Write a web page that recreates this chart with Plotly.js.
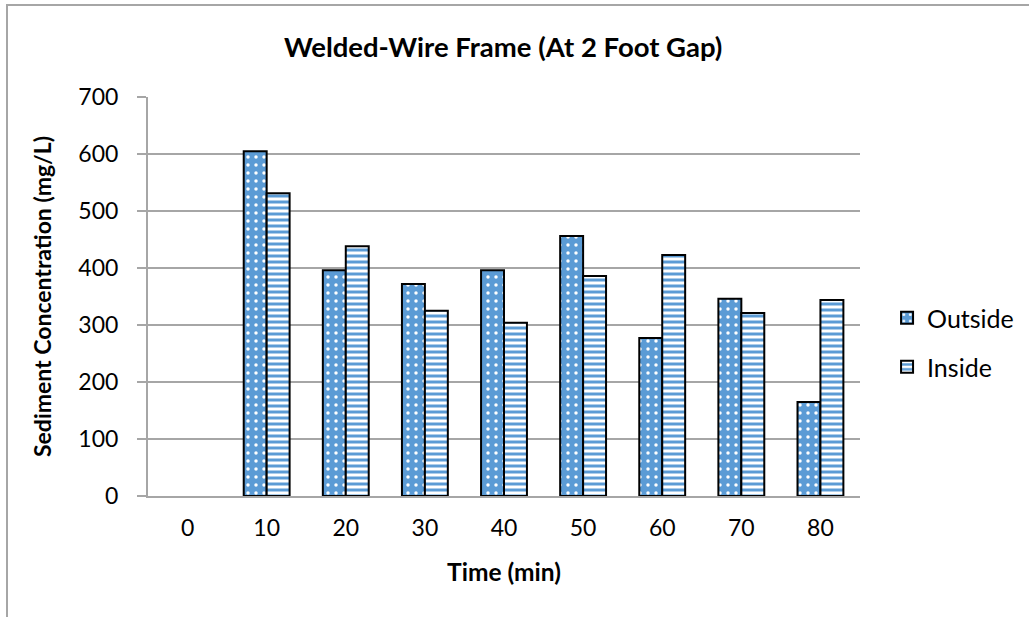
<!DOCTYPE html>
<html>
<head>
<meta charset="utf-8">
<script src="https://cdn.plot.ly/plotly-3.0.1.min.js"></script>
<style>
  html, body { margin: 0; padding: 0; background: #fff; }
  #chart { width: 1029px; height: 617px; position: absolute; left: 0; top: 0; }
  #frame { position: absolute; left: 6px; top: 4px; width: 1030px; height: 620px;
           border-left: 2px solid #A6A6A6; border-top: 2px solid #A6A6A6; pointer-events: none; }
</style>
</head>
<body>
<div id="chart"></div>
<div id="frame"></div>
<script>
const categories = ['0', '10', '20', '30', '40', '50', '60', '70', '80'];
const outsideValues = [0, 605, 396, 372, 396, 456, 277, 346, 165];
const insideValues = [0, 531, 438, 325, 304, 386, 423, 321, 344];
const yTicks = [0, 100, 200, 300, 400, 500, 600, 700];

const FONT = 'Lato, "Open Sans", "Liberation Sans", sans-serif';
const BLUE = '#5B9BD5';
// zero-height bars are not drawn in the reference (no outline at 0)
const hideZero = v => (v === 0 ? null : v);

const traces = [
  {
    type: 'bar', name: 'Outside', x: categories, y: outsideValues.map(hideZero), legend: 'legend',
    marker: {
      color: BLUE,
      line: { color: '#000', width: 2 },
      pattern: { shape: '.', fgcolor: '#ffffff', bgcolor: BLUE, size: 8, solidity: 0.15, fillmode: 'replace' }
    }
  },
  {
    type: 'bar', name: 'Inside', x: categories, y: insideValues.map(hideZero), legend: 'legend2',
    marker: {
      color: BLUE,
      line: { color: '#000', width: 2 },
      pattern: { shape: '-', fgcolor: BLUE, bgcolor: '#ffffff', size: 6, solidity: 0.5, fillmode: 'replace' }
    }
  }
];

const legendStyle = {
  xanchor: 'left', yanchor: 'middle',
  font: { family: FONT, size: 25, color: '#000' },
  itemwidth: 30, bgcolor: 'rgba(0,0,0,0)'
};

const layout = {
  width: 1029, height: 617,
  margin: { l: 148, r: 169, t: 97, b: 121, autoexpand: false },
  paper_bgcolor: '#fff', plot_bgcolor: '#fff',
  barmode: 'group', bargap: 0.42, bargroupgap: 0,
  font: { family: FONT, size: 23, color: '#000' },
  title: {
    text: '<b>Welded-Wire Frame (At 2 Foot Gap)</b>',
    font: { family: FONT, size: 27.5, color: '#000' },
    x: 0.489, xanchor: 'center', y: 0.924, yanchor: 'middle'
  },
  xaxis: {
    type: 'category', automargin: false,
    showline: true, linecolor: '#A6A6A6', linewidth: 2,
    ticks: '', showgrid: false, ticklabelstandoff: 10,
    tickfont: { family: FONT, size: 23, color: '#000' },
    title: { text: '<b>Time (min)</b>', font: { family: FONT, size: 24.5, color: '#000' }, standoff: 24 }
  },
  yaxis: {
    range: [0, 700], tickvals: yTicks, ticktext: yTicks.map(String), automargin: false,
    showline: true, linecolor: '#A6A6A6', linewidth: 2,
    ticks: 'outside', ticklen: 9, tickcolor: '#A6A6A6', tickwidth: 2,
    showgrid: true, gridcolor: '#A6A6A6', gridwidth: 2,
    zeroline: false, ticklabelstandoff: 14,
    tickfont: { family: FONT, size: 23, color: '#000' },
    title: { text: '<b>Sediment Concentration (mg/L)</b>', font: { family: FONT, size: 23, color: '#000' }, standoff: 20 }
  },
  legend: Object.assign({ x: 1.038, y: 0.446 }, legendStyle),
  legend2: Object.assign({ x: 1.038, y: 0.323 }, legendStyle),
  showlegend: true
};

Plotly.newPlot('chart', traces, layout, { displayModeBar: false, staticPlot: true });
</script>
</body>
</html>
